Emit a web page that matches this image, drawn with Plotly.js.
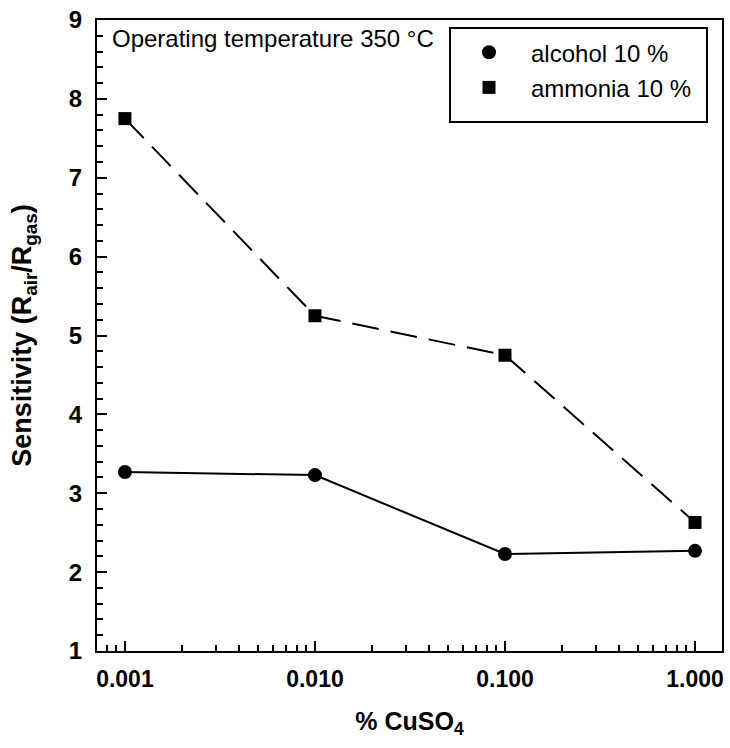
<!DOCTYPE html>
<html>
<head>
<meta charset="utf-8">
<script src="https://cdn.plot.ly/plotly-3.0.1.min.js"></script>
<style>html,body{margin:0;padding:0;background:#fff;}#chart{width:730px;height:748px;}</style>
</head>
<body>
<div id="chart"></div>
<script>
// Data
var cuso4 = [0.001, 0.01, 0.1, 1.0];
var alcohol = [3.27, 3.23, 2.23, 2.27];
var ammonia = [7.75, 5.25, 4.75, 2.63];
var xTickVals = [0.001, 0.01, 0.1, 1.0];
var xTickText = ["0.001", "0.010", "0.100", "1.000"];
var seriesNames = ["alcohol 10 %", "ammonia 10 %"];

var minorX = [];
[0.0001, 0.001, 0.01, 0.1].forEach(function (d) {
  for (var k = 2; k <= 9; k++) { minorX.push(d * k); }
});

var F = "Liberation Sans, Arial, sans-serif";

var traces = [
  { x: cuso4, y: alcohol, mode: "lines+markers", showlegend: false,
    line: { color: "#000", width: 2 },
    marker: { symbol: "circle", size: 14, color: "#000" } },
  { x: cuso4, y: ammonia, mode: "lines+markers", showlegend: false,
    line: { color: "#000", width: 2, dash: "27px,12px" },
    marker: { symbol: "square", size: 13, color: "#000" } },
  { x: [null], y: [null], mode: "markers", name: seriesNames[0], legendgroup: "a",
    marker: { symbol: "circle", size: 14, color: "#000" } },
  { x: [null], y: [null], mode: "markers", name: seriesNames[1], legendgroup: "b",
    marker: { symbol: "square", size: 13, color: "#000" } }
];

var layout = {
  width: 730, height: 748,
  margin: { l: 97, r: 8, t: 20, b: 97 },
  paper_bgcolor: "#fff", plot_bgcolor: "#fff",
  font: { family: F, color: "#000" },
  showlegend: true,
  legend: {
    x: 0.5648, xanchor: "left", y: 0.984, yanchor: "top",
    borderwidth: 0, bgcolor: "rgba(0,0,0,0)",
    font: { family: F, size: 24, color: "#000" },
    traceorder: "grouped", tracegroupgap: 1,
    indentation: -3, itemwidth: 74
  },
  shapes: [{
    type: "rect", xref: "paper", yref: "paper",
    x0: 0.5648, x1: 0.976, y0: 0.8384, y1: 0.9873,
    line: { color: "#000", width: 2 }, fillcolor: "rgba(0,0,0,0)", layer: "above"
  }],
  xaxis: {
    type: "log", range: [-3.147, 0.142],
    tickmode: "array", tickvals: xTickVals, ticktext: xTickText,
    ticks: "inside", ticklen: 10, tickwidth: 2, tickcolor: "#000",
    showline: true, linewidth: 2, linecolor: "#000", mirror: true,
    showgrid: false, zeroline: false,
    tickfont: { family: F, size: 23, color: "#000", weight: "bold" },
    ticklabelstandoff: 6,
    minor: { tickmode: "array", tickvals: minorX, ticks: "inside", ticklen: 6, tickwidth: 2, tickcolor: "#000", showgrid: false },
    title: { text: "% CuSO<sub>4</sub>", font: { family: F, size: 25, color: "#000", weight: "bold" }, standoff: 22 }
  },
  yaxis: {
    range: [1, 9], dtick: 1, tick0: 1,
    ticks: "inside", ticklen: 10, tickwidth: 2, tickcolor: "#000",
    showline: true, linewidth: 2, linecolor: "#000", mirror: true,
    showgrid: false, zeroline: false,
    tickfont: { family: F, size: 24, color: "#000", weight: "bold" },
    ticklabelstandoff: 8,
    minor: { dtick: 0.2, ticks: "inside", ticklen: 6, tickwidth: 2, tickcolor: "#000", showgrid: false },
    title: { text: "Sensitivity (R<sub>air</sub>/R<sub>gas</sub>)", font: { family: F, size: 27, color: "#000", weight: "bold" }, standoff: 29 }
  },
  annotations: [{
    xref: "paper", yref: "paper", x: 0.02, y: 0.996, xanchor: "left", yanchor: "top",
    text: "Operating temperature 350 °C", showarrow: false,
    font: { family: F, size: 24, color: "#000" }
  }]
};

Plotly.newPlot("chart", traces, layout, { displayModeBar: false, staticPlot: true });
</script>
</body>
</html>
